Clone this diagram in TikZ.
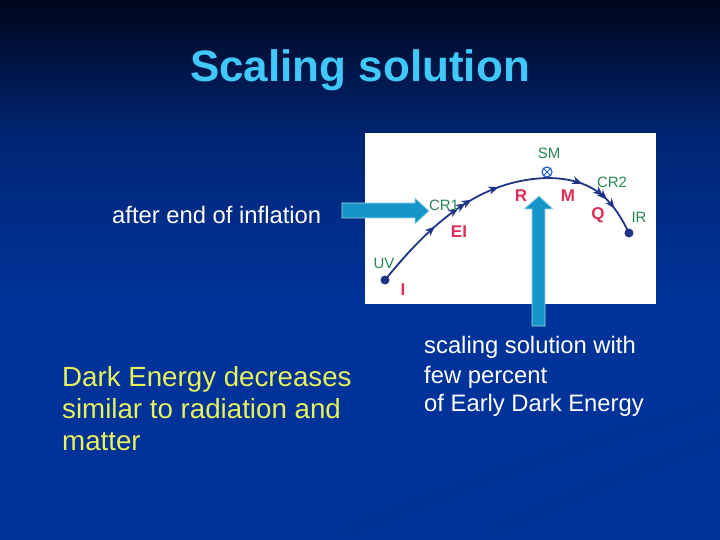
\documentclass[tikz,border=0pt]{standalone}
\usepackage{fontspec}
\setmainfont{Liberation Sans}
\usetikzlibrary{decorations.markings,arrows.meta}
\definecolor{bgtop}{RGB}{0,6,28}
\definecolor{bgmid}{RGB}{0,38,118}
\definecolor{bgbot}{RGB}{0,51,153}
\definecolor{titlecol}{RGB}{64,200,250}
\definecolor{yel}{RGB}{232,242,90}
\definecolor{arrowblue}{RGB}{22,150,200}
\definecolor{curveblue}{RGB}{32,52,135}
\definecolor{handgreen}{RGB}{40,135,85}
\definecolor{handred}{RGB}{225,45,85}
\definecolor{smblue}{RGB}{40,95,200}
\tikzset{
  bigarrow/.style={fill=arrowblue,draw=white!60!arrowblue,line width=0.8pt,line join=miter},
  greenlbl/.style={text=handgreen,font=\fontsize{15}{15}\selectfont,inner sep=0pt},
  redlbl/.style={text=handred,font=\fontsize{17}{17}\selectfont\bfseries,inner sep=0pt},
  whitetxt/.style={text=white,anchor=base west,inner sep=0pt},
  yeltxt/.style={text=yel,anchor=base west,inner sep=0pt,font=\fontsize{27.7}{32}\selectfont},
  enddot/.style={circle,fill=curveblue,inner sep=0pt,minimum size=9pt}
}
\newcommand{\tp}{\arrow{Stealth[length=10pt,width=8pt,inset=3pt]}}
\begin{document}
\begin{tikzpicture}[x=1pt,y=-1pt]
\useasboundingbox (0,0) rectangle (720,540);
% background
\shade[top color=bgtop,bottom color=bgmid] (0,0) rectangle (720,140);
\shade[top color=bgmid,bottom color=bgbot] (0,140) rectangle (720,300);
\fill[bgbot] (0,300) rectangle (720,540);
% faint streaks bottom right
\fill[black,opacity=0.03] (720,395) .. controls (600,430) and (450,480) .. (330,530) -- (360,535) .. controls (470,490) and (610,445) .. (720,412) -- cycle;
\fill[black,opacity=0.03] (720,430) .. controls (640,455) and (560,490) .. (480,530) -- (505,535) .. controls (580,500) and (660,470) .. (720,448) -- cycle;
% title
\node[text=titlecol,font=\fontsize{44}{44}\selectfont\bfseries,anchor=base,inner sep=0pt] (title) at (360,82) {Scaling solution};
% picture box
\fill[white] (365,133) rectangle (656,304);
\node[enddot] (uv) at (385,280) {};
\node[enddot] (ir) at (629,233) {};
\coordinate (sm) at (547,178);
\draw[curveblue,line width=1.8pt,
  postaction={decorate,decoration={markings,
    mark=at position 0.37 with {\tp},
    mark=at position 0.52 with {\tp},
    mark=at position 0.565 with {\tp},
    mark=at position 0.60 with {\tp},
    mark=at position 0.75 with {\tp}}}]
  (uv.center) .. controls (432,222) and (480,180) .. (sm);
\draw[curveblue,line width=1.8pt,
  postaction={decorate,decoration={markings,
    mark=at position 0.34 with {\tp},
    mark=at position 0.57 with {\tp},
    mark=at position 0.62 with {\tp},
    mark=at position 0.73 with {\tp}}}]
  (sm) .. controls (598,178) and (615,205) .. (ir.center);
% SM symbol
\node[circle,draw=smblue,line width=1.2pt,inner sep=0pt,minimum size=10pt] (smsym) at (547,172) {};
\draw[smblue,line width=1pt] (smsym.north west) -- (smsym.south east) (smsym.north east) -- (smsym.south west);
% hand labels
\node[greenlbl] (lSM) at (549,153) {SM};
\node[greenlbl] (lCR1) at (444,205) {CR1};
\node[greenlbl] (lCR2) at (612,182) {CR2};
\node[greenlbl] (lUV) at (384,263) {UV};
\node[greenlbl] (lIR) at (639,217) {IR};
\node[redlbl] (lR) at (521,196) {R};
\node[redlbl] (lM) at (568,196) {M};
\node[redlbl] (lQ) at (598,215) {Q};
\node[redlbl] (lEI) at (459,232) {EI};
\node[redlbl] (lI) at (403,290) {I};
% big arrows
\draw[bigarrow] (342,203) -- (415,203) -- (415,198) -- (429,211) -- (415,224) -- (415,218) -- (342,218) -- cycle;
\draw[bigarrow] (532,326) -- (532,209) -- (524,209) -- (539,196) -- (553,209) -- (545,209) -- (545,326) -- cycle;
% texts
\node[whitetxt,font=\fontsize{23.8}{23.8}\selectfont] (after) at (112,223) {after end of inflation};
\node[yeltxt] (y1) at (62,386) {Dark Energy decreases};
\node[yeltxt] (y2) at (62,418) {similar to radiation and};
\node[yeltxt] (y3) at (62,450) {matter};
\node[whitetxt,font=\fontsize{23.8}{23.8}\selectfont] (w1) at (424,353) {scaling solution with};
\node[whitetxt,font=\fontsize{23.8}{23.8}\selectfont] (w2) at (424,383) {few percent};
\node[whitetxt,font=\fontsize{23.8}{23.8}\selectfont] (w3) at (424,411) {of Early Dark Energy};
\end{tikzpicture}
\end{document}
